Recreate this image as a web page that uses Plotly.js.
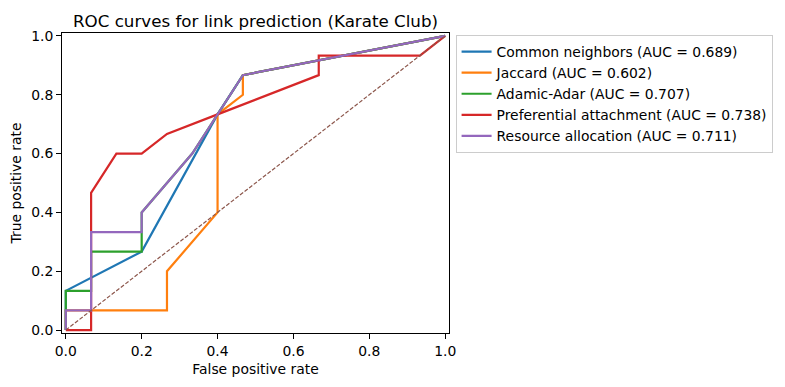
<!DOCTYPE html>
<html><head><meta charset="utf-8">
<script src="https://cdn.plot.ly/plotly-3.0.1.min.js"></script>
<style>html,body{margin:0;padding:0;background:#fff}#chart{width:785px;height:387px}</style>
</head><body><div id="chart"></div>
<script>
const seriesNames = ["Common neighbors (AUC = 0.689)", "Jaccard (AUC = 0.602)", "Adamic-Adar (AUC = 0.707)", "Preferential attachment (AUC = 0.738)", "Resource allocation (AUC = 0.711)"];
const colors = ["#1f77b4", "#ff7f0e", "#2ca02c", "#d62728", "#9467bd"];

const cnFpr = [0, 0, 0.2, 0.4, 0.4667, 1];
const cnTpr = [0, 0.1333, 0.2667, 0.7333, 0.8667, 1];

const jacFpr = [0, 0, 0.2667, 0.2667, 0.4, 0.4, 0.4667, 0.4667, 1];
const jacTpr = [0, 0.0667, 0.0667, 0.2, 0.4, 0.7333, 0.8, 0.8667, 1];

const aaFpr = [0, 0, 0.0667, 0.0667, 0.2, 0.2, 0.3333, 0.4, 0.4667, 1];
const aaTpr = [0, 0.1333, 0.1333, 0.2667, 0.2667, 0.4, 0.6, 0.7333, 0.8667, 1];

const paFpr = [0, 0.0667, 0.0667, 0.1333, 0.2, 0.2667, 0.4, 0.6667, 0.6667, 0.9333, 1];
const paTpr = [0, 0, 0.4667, 0.6, 0.6, 0.6667, 0.7333, 0.8667, 0.9333, 0.9333, 1];

const raFpr = [0, 0, 0.0667, 0.0667, 0.2, 0.2, 0.3333, 0.4, 0.4667, 1];
const raTpr = [0, 0.0667, 0.0667, 0.3333, 0.3333, 0.4, 0.6, 0.7333, 0.8667, 1];

const diagX = [0, 1];
const diagY = [0, 1];

const xs = [cnFpr, jacFpr, aaFpr, paFpr, raFpr];
const ys = [cnTpr, jacTpr, aaTpr, paTpr, raTpr];

const traces = xs.map((x, i) => ({
  x: x, y: ys[i], type: 'scatter', mode: 'lines', name: seriesNames[i],
  legendgroup: 'g' + i,
  line: {color: colors[i], width: 2.2}
}));
traces.push({x: diagX, y: diagY, type: 'scatter', mode: 'lines', showlegend: false,
  line: {color: '#8c564b', width: 1.2, dash: '4px,1.8px'}});

const font = {family: 'DejaVu Sans', size: 13.9, color: '#000'};
const axisCommon = {
  range: [-0.01, 1.01], showgrid: false, zeroline: false,
  showline: true, mirror: true, linecolor: '#000', linewidth: 1,
  ticks: 'outside', ticklen: 4.9, tickwidth: 1, tickcolor: '#000',
  tickvals: [0, 0.2, 0.4, 0.6, 0.8, 1.0], ticktext: ['0.0', '0.2', '0.4', '0.6', '0.8', '1.0'],
  tickfont: font
};
const layout = {
  width: 785, height: 387,
  margin: {l: 62, r: 336, t: 33, b: 54},
  paper_bgcolor: '#fff', plot_bgcolor: '#fff',
  font: font,
  title: {text: 'ROC curves for link prediction (Karate Club)', font: {family: 'DejaVu Sans', size: 16.7, color: '#000'},
    x: 0.5, xref: 'paper', xanchor: 'center', y: 1, yref: 'paper', yanchor: 'bottom', pad: {b: 6}},
  xaxis: Object.assign({}, axisCommon, {title: {text: 'False positive rate', font: font, standoff: 6}}),
  yaxis: Object.assign({}, axisCommon, {title: {text: 'True positive rate', font: font, standoff: 6}}),
  showlegend: true,
  legend: {x: 1.017, xanchor: 'left', y: 0.993, yanchor: 'top', bordercolor: '#cccccc', borderwidth: 1,
    bgcolor: '#fff', font: font, tracegroupgap: 0, itemwidth: 30}
};
Plotly.newPlot('chart', traces, layout, {displayModeBar: false, staticPlot: true});
</script></body></html>
